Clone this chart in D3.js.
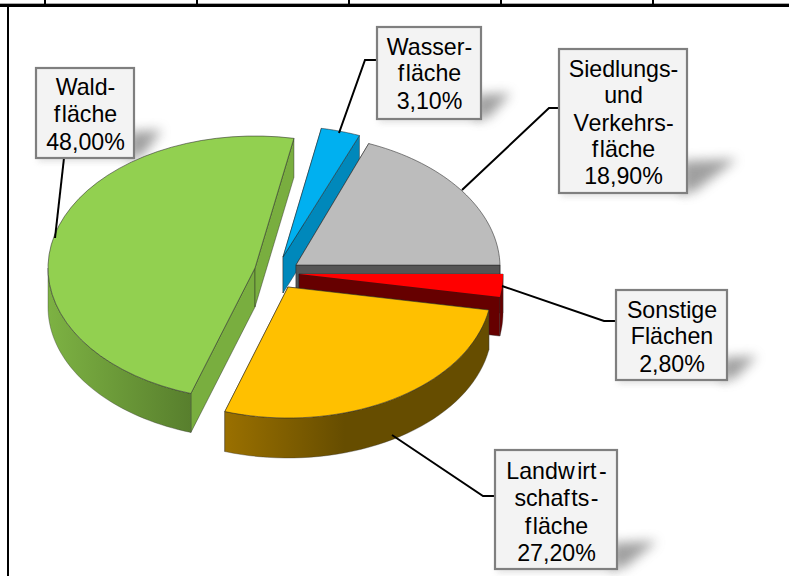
<!DOCTYPE html>
<html><head><meta charset="utf-8">
<script src="https://cdn.jsdelivr.net/npm/d3@7/dist/d3.min.js"></script>
<style>html,body{margin:0;padding:0;background:#fff}svg{display:block}</style>
</head><body><div id="c"></div>
<script>
// Data (clockwise from the upper edge of the grey slice)
const categories = ["Siedlungs- und Verkehrsfläche","Sonstige Flächen","Landwirtschaftsfläche","Waldfläche","Wasserfläche"];
const values = [18.9,2.8,27.2,48.0,3.1];
const valueLabels = ["18,90%","2,80%","27,20%","48,00%","3,10%"];
const labelLines = [["Siedlungs-","und","Verkehrs-","fläche"],["Sonstige","Flächen"],["Landwirt-","schafts-","fläche"],["Wald-","fläche"],["Wasser-","fläche"]];
const topColors = ["#bcbcbc","#ff0000","#ffc000","#92d050","#00b0f0"];
const sideColors = ["#555555","#660000","#6b5000","#79ae3f","#0088bb"];
const wallLeft = ["#555555","#660000","#9a7000","#7db243","#0088bb"];
const wallRight = ["#555555","#660000","#664d00","#587f2d","#0088bb"];

// Layout
const W=789,H=576;
const radX=[204,204,204,207,204], radY=[131,131,131,132,131], shear=[-4,0,0,0,0];
const apex=[[296,265],[299,274],[288,287],[255,268],[283,257]];
const depth=[36,39,40,39,36];
const boxes=[
 {x:559,y:49,w:128,h:144,b:[77,103,131,157,184],lead:[[559,108],[549,108],[462,190]],sh:[56,36]},
 {x:616,y:290,w:111,h:90,b:[318,344,372],lead:[[616,321],[604,321],[502,286]],sh:[36,26]},
 {x:495,y:450,w:122,h:119,b:[479,506,534,561],lead:[[495,496],[483,496],[392,435]],sh:[46,30]},
 {x:36,y:68,w:98,h:90,b:[95,122,150],lead:[[64,158],[55,238]],sh:[34,30]},
 {x:377,y:27,w:104,h:92,b:[55,81,109],lead:[[377,60],[365,60],[339,133]],sh:[36,28]}
];
const paintOrder=[4,0,1,2,3];
// small glyph gaps seen in the reference: [index in the line, extra px]
const gaps={"fläche":[[1,1.5]],"Landwirt-":[[5,2.5],[8,2.5]],"schafts-":[[5,1.5],[7,1.5]],"Verkehrs-":[[1,1]]};

const svg=d3.select("#c").append("svg").attr("width",W).attr("height",H);
const defs=svg.append("defs");
defs.append("filter").attr("id","soft").attr("x","-60%").attr("y","-60%").attr("width","220%").attr("height","220%")
  .append("feGaussianBlur").attr("stdDeviation",6);
defs.append("filter").attr("id","soft2").attr("x","-20%").attr("y","-200%").attr("width","140%").attr("height","500%")
  .append("feGaussianBlur").attr("stdDeviation",3);

// Frame
svg.append("rect").attr("x",0).attr("y",3).attr("width",W).attr("height",1).attr("fill","#aaa");
svg.append("rect").attr("x",0).attr("y",4).attr("width",W).attr("height",3).attr("fill","#000");
svg.append("rect").attr("x",7).attr("y",6).attr("width",2).attr("height",H).attr("fill","#000");
svg.selectAll("rect.t").data(d3.range(44,660,152)).join("rect").attr("class","t")
  .attr("x",d=>d).attr("y",0).attr("width",2).attr("height",5).attr("fill","#000");

const line=d3.line();
// Box shadows
svg.append("g").selectAll("path").data(boxes).join("path")
  .attr("d",b=>{const R=b.x+b.w,B=b.y+b.h;
    return line([[R-6,B-b.sh[1]+4],[R+b.sh[0]-6,B-b.sh[1]+2],[R+8,B-2],[R-6,B+1]])+"Z";})
  .attr("fill","#777").attr("opacity",.7).attr("filter","url(#soft)");
svg.append("g").selectAll("rect").data(boxes).join("rect")
  .attr("x",b=>b.x+2).attr("y",b=>b.y+b.h-2).attr("width",b=>b.w-2).attr("height",5)
  .attr("fill","#aaa").attr("opacity",.45).attr("filter","url(#soft2)");

// Pie
const arcs=d3.pie().sort(null).value(d=>d)
  .startAngle(22*Math.PI/180).endAngle(382*Math.PI/180)(values);
const proj=(i,a,dz=0)=>[apex[i][0]+radX[i]*Math.sin(a)+shear[i]*Math.max(0,Math.cos(a)),apex[i][1]-radY[i]*Math.cos(a)+dz];
const rim=(i,a0,a1,dz=0)=>d3.range(0,41).map(k=>proj(i,a0+(a1-a0)*k/40,dz));
const pieG=svg.append("g");
paintOrder.forEach(i=>{
  const s=arcs[i],d=depth[i],c=apex[i],g=pieG.append("g");
  const cut=a=>{const p=proj(i,a);
    g.append("path").attr("d",line([c,p,[p[0],p[1]+d],[c[0],c[1]+d]])+"Z")
     .attr("fill",sideColors[i]).attr("stroke","#222").attr("stroke-width",.6).attr("stroke-opacity",.7);};
  cut(s.startAngle);cut(s.endAngle);
  const a0=Math.max(s.startAngle,Math.PI/2),a1=Math.min(s.endAngle,Math.PI*1.5);
  if(a1>a0+1e-6){
    const top=rim(i,a0,a1),bot=rim(i,a0,a1,d).reverse();
    const xs=top.map(p=>p[0]);
    const id="w"+i;
    const gr=defs.append("linearGradient").attr("id",id).attr("gradientUnits","userSpaceOnUse")
      .attr("x1",d3.min(xs)).attr("x2",d3.min(xs)+(i===2?120:d3.max(xs)-d3.min(xs))).attr("y1",0).attr("y2",0);
    gr.append("stop").attr("offset",0).attr("stop-color",wallLeft[i]);
    gr.append("stop").attr("offset",1).attr("stop-color",wallRight[i]);
    g.append("path").attr("d",line(top.concat(bot))+"Z").attr("fill",`url(#${id})`)
     .attr("stroke","#333").attr("stroke-width",.6).attr("stroke-opacity",.6);
  }
  g.append("path").attr("d",line([c].concat(rim(i,s.startAngle,s.endAngle)))+"Z")
   .attr("fill",topColors[i]).attr("stroke",i===1?"none":"#2a2a2a").attr("stroke-width",.8).attr("stroke-opacity",.7);
});

// Leader lines
svg.append("g").selectAll("path").data(boxes).join("path")
  .attr("d",b=>line(b.lead)).attr("fill","none").attr("stroke","#000").attr("stroke-width",2);

// Label boxes
const lab=svg.append("g").selectAll("g").data(boxes).join("g");
lab.append("rect").attr("x",b=>b.x).attr("y",b=>b.y).attr("width",b=>b.w).attr("height",b=>b.h)
  .attr("fill","#f3f3f3").attr("stroke","#7f7f7f").attr("stroke-width",2.2);
lab.each(function(b,i){
  const lines=labelLines[i].concat(valueLabels[i]);
  d3.select(this).selectAll("text").data(lines).join("text")
    .attr("x",b.x+b.w/2+.5).attr("y",(d,k)=>b.b[k]).attr("text-anchor","middle")
    .attr("font-family","'Liberation Sans',Arial,sans-serif").attr("font-size",23.2).attr("fill","#000")
    .each(function(t){
      const sel=d3.select(this),g=gaps[t]||[];
      let pos=0,dx=0;
      g.concat([[t.length,0]]).forEach(([at,extra])=>{
        sel.append("tspan").attr("dx",dx).text(t.slice(pos,at));
        pos=at;dx=extra;
      });
    });
});
</script></body></html>
